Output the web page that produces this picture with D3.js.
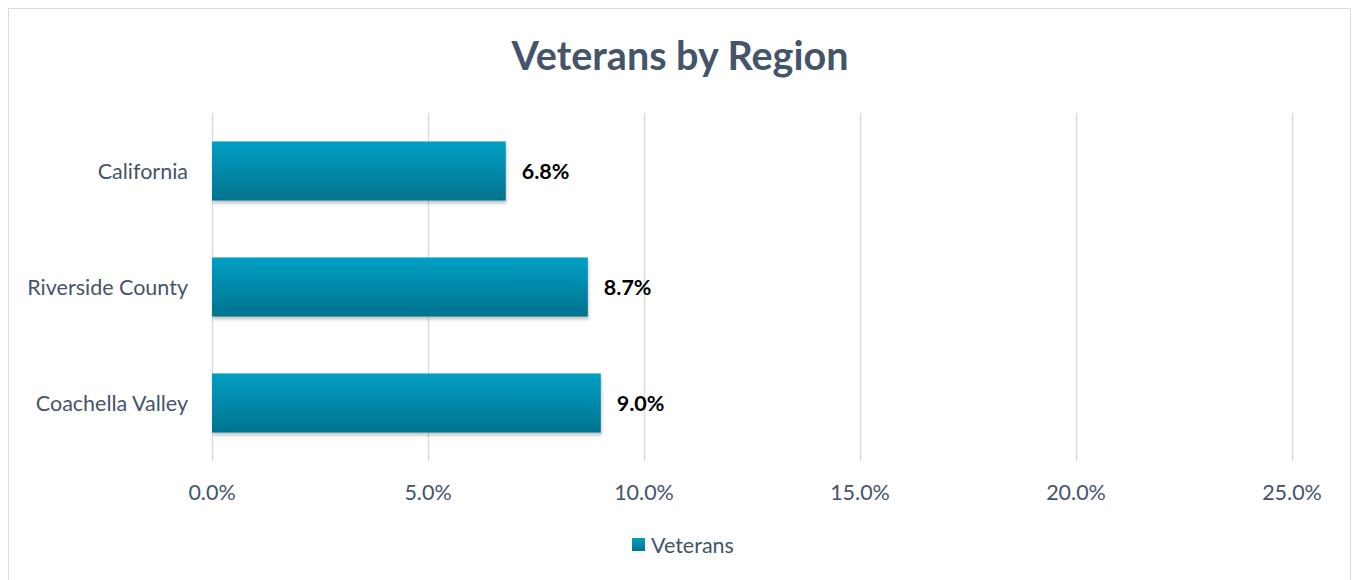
<!DOCTYPE html>
<html>
<head>
<meta charset="utf-8">
<script src="https://cdn.jsdelivr.net/npm/d3@7"></script>
<style>
  html, body { margin: 0; padding: 0; background: #fff; }
  svg { display: block; font-family: Lato, "Open Sans", sans-serif; }
</style>
</head>
<body>
<svg id="chart" width="1353" height="580"></svg>
<script>
const regions = ['California', 'Riverside County', 'Coachella Valley'];
const veterans = [6.8, 8.7, 9.0];
const xTicks = [0, 5, 10, 15, 20, 25];

const svg = d3.select('#chart');
const width = 1353, height = 580;
const margin = { top: 113, right: 61, bottom: 119, left: 212 };

// chart frame
svg.append('rect')
  .attr('x', 8.5).attr('y', 8.5)
  .attr('width', 1342).attr('height', 600)
  .attr('fill', '#fff')
  .attr('stroke', '#D9DDE3')
  .attr('stroke-width', 1);

const defs = svg.append('defs');
const grad = defs.append('linearGradient')
  .attr('id', 'barGrad')
  .attr('x1', 0).attr('y1', 0).attr('x2', 0).attr('y2', 1);
grad.append('stop').attr('offset', '0%').attr('stop-color', '#009FC4');
grad.append('stop').attr('offset', '100%').attr('stop-color', '#00738E');

const shadow = defs.append('filter').attr('id', 'shadow')
  .attr('x', '-5%').attr('y', '-10%').attr('width', '110%').attr('height', '130%');
shadow.append('feDropShadow')
  .attr('dx', 1).attr('dy', 3).attr('stdDeviation', 1.5)
  .attr('flood-color', '#000').attr('flood-opacity', 0.22);

const x = d3.scaleLinear()
  .domain([0, 25])
  .range([margin.left, width - margin.right]);

const y = d3.scaleBand()
  .domain(regions)
  .range([margin.top, height - margin.bottom])
  .paddingInner(0.49)
  .paddingOuter(0.245);

// gridlines
svg.append('g')
  .selectAll('line')
  .data(xTicks)
  .join('line')
    .attr('x1', d => x(d) + 0.5)
    .attr('x2', d => x(d) + 0.5)
    .attr('y1', margin.top)
    .attr('y2', height - margin.bottom)
    .attr('stroke', '#D9DDE3')
    .attr('stroke-width', 1.5);

// x tick labels
svg.append('g')
  .selectAll('text')
  .data(xTicks)
  .join('text')
    .attr('x', d => x(d))
    .attr('y', 500)
    .attr('text-anchor', 'middle')
    .attr('font-size', '21.5px')
    .attr('fill', '#44546A')
    .text(d => d.toFixed(1) + '%');

// category labels
svg.append('g')
  .selectAll('text')
  .data(regions)
  .join('text')
    .attr('x', 188)
    .attr('y', d => y(d) + y.bandwidth() / 2)
    .attr('dy', '0.35em')
    .attr('text-anchor', 'end')
    .attr('font-size', '21.5px')
    .attr('fill', '#44546A')
    .text(d => d);

const data = regions.map((r, i) => ({ region: r, value: veterans[i] }));

// bars
svg.append('g')
  .selectAll('rect')
  .data(data)
  .join('rect')
    .attr('x', x(0))
    .attr('y', d => y(d.region))
    .attr('width', d => x(d.value) - x(0))
    .attr('height', y.bandwidth())
    .attr('fill', 'url(#barGrad)')
    .attr('filter', 'url(#shadow)');

// value labels
svg.append('g')
  .selectAll('text')
  .data(data)
  .join('text')
    .attr('x', d => x(d.value) + 16)
    .attr('y', d => y(d.region) + y.bandwidth() / 2)
    .attr('dy', '0.35em')
    .attr('font-size', '21.5px')
    .attr('font-weight', 'bold')
    .attr('fill', '#000')
    .text(d => d.value.toFixed(1) + '%');

// title
svg.append('text')
  .attr('x', 680)
  .attr('y', 70)
  .attr('text-anchor', 'middle')
  .attr('font-size', '39.5px')
  .attr('font-weight', 'bold')
  .attr('fill', '#44546A')
  .text('Veterans by Region');

// legend
const legend = svg.append('g');
legend.append('rect')
  .attr('x', 632).attr('y', 538)
  .attr('width', 13).attr('height', 13)
  .attr('fill', 'url(#barGrad)');
legend.append('text')
  .attr('x', 651).attr('y', 553)
  .attr('font-size', '21.5px')
  .attr('fill', '#44546A')
  .text('Veterans');
</script>
</body>
</html>
